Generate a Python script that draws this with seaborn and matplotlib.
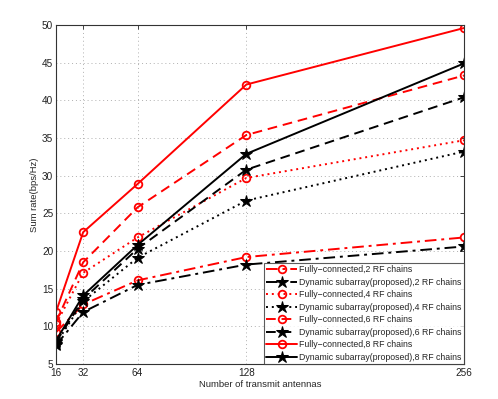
import matplotlib
matplotlib.use("Agg")
import matplotlib.pyplot as plt
import seaborn as sns
import pandas as pd

antennas = [16, 32, 64, 128, 256]

fc2 = [9.2, 12.9, 16.1, 19.2, 21.8]
ds2 = [7.5, 11.9, 15.5, 18.2, 20.6]
fc4 = [10.3, 17.1, 21.8, 29.7, 34.7]
ds4 = [7.7, 13.3, 19.1, 26.7, 33.2]
fc6 = [10.6, 18.5, 25.8, 35.4, 43.3]
ds6 = [7.9, 13.6, 20.3, 30.8, 40.4]
fc8 = [11.9, 22.5, 28.9, 42.1, 49.6]
ds8 = [8.1, 14.1, 20.8, 32.9, 44.9]

labels = [
    "Fully\u2212connected,2 RF chains",
    "Dynamic subarray(proposed),2 RF chains",
    "Fully\u2212connected,4 RF chains",
    "Dynamic subarray(proposed),4 RF chains",
    "Fully\u2212connected,6 RF chains",
    "Dynamic subarray(proposed),6 RF chains",
    "Fully\u2212connected,8 RF chains",
    "Dynamic subarray(proposed),8 RF chains",
]
series = [fc2, ds2, fc4, ds4, fc6, ds6, fc8, ds8]
styles = [(0, (6, 2.5, 1.5, 2.5)), (0, (6, 2.5, 1.5, 2.5)),
          (0, (1, 2)), (0, (1, 2)),
          (0, (5, 3)), (0, (5, 3)),
          "-", "-"]

sns.set_theme(style="white")
plt.rcParams["font.family"] = ["Liberation Sans", "DejaVu Sans"]

fig = plt.figure(figsize=(4.98, 3.99), dpi=100)
ax = fig.add_axes([0.1124, 0.0877, 0.8193, 0.8496])

for i, (vals, lab, ls) in enumerate(zip(series, labels, styles)):
    df = pd.DataFrame({"N": antennas, "R": vals})
    if i % 2 == 0:
        sns.lineplot(data=df, x="N", y="R", ax=ax, color="#ff0000", linestyle=ls,
                     linewidth=1.4, marker="o", markersize=5.5, markerfacecolor="none",
                     markeredgecolor="#ff0000", markeredgewidth=1.3, label=lab)
    else:
        sns.lineplot(data=df, x="N", y="R", ax=ax, color="black", linestyle=ls,
                     linewidth=1.4, marker="*", markersize=9, markerfacecolor="black",
                     markeredgecolor="black", label=lab)

ax.set_xlim(16, 256)
ax.set_ylim(5, 50)
ax.set_xticks(antennas)
ax.set_xticklabels([str(a) for a in antennas])
ax.set_yticks(range(5, 51, 5))
ax.grid(True, linestyle=(0, (1, 3)), color="#b0b0b0", linewidth=0.7)
ax.tick_params(axis="both", direction="in", length=3, width=0.6, labelsize=7.2,
               colors="#222222", pad=2, top=True, right=True)
ax.tick_params(axis="x", pad=3)
for s in ax.spines.values():
    s.set_color("#333333")
    s.set_linewidth(0.8)
    s.set_visible(True)
ax.set_xlabel("Number of transmit antennas", fontsize=6.8, labelpad=1)
ax.set_ylabel("Sum rate(bps/Hz)", fontsize=6.8, labelpad=2)

leg = ax.legend(loc="lower right", fontsize=6.3, frameon=True, fancybox=False,
                borderaxespad=0, handlelength=3.5, handletextpad=0.25,
                labelspacing=0.4, borderpad=0.25, edgecolor="#333333")
leg.get_frame().set_linewidth(0.8)

fig.savefig("out.png", dpi=100)
